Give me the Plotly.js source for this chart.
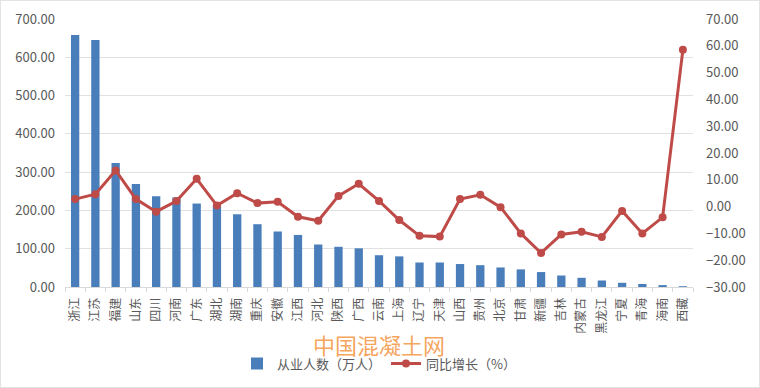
<!DOCTYPE html>
<html>
<head>
<meta charset="utf-8">
<script src="https://cdn.plot.ly/plotly-3.0.1.min.js"></script>
<style>
html,body{margin:0;padding:0;background:#fff;}
#wrap{width:760px;height:388px;box-sizing:border-box;border:1px solid #e3e3e3;position:relative;}
#chart{width:758px;height:386px;position:absolute;left:0;top:0;}
</style>
</head>
<body>
<div id="wrap"><div id="chart"></div></div>
<script>
const provinces = ["浙江","江苏","福建","山东","四川","河南","广东","湖北","湖南","重庆","安徽","江西","河北","陕西","广西","云南","上海","辽宁","天津","山西","贵州","北京","甘肃","新疆","吉林","内蒙古","黑龙江","宁夏","青海","海南","西藏"];
const employees = [658,645,324,269,237,234,218,212,190,164,145,136,111,105,101,83,80,64,64,60,57,51,46,39,30,24,17,11,8,5,2];
const growth = [2.8,4.6,13.5,2.8,-1.9,2.1,10.4,0.4,5.0,1.3,1.8,-3.8,-5.3,4.0,8.5,2.1,-5.0,-10.9,-11.2,2.8,4.4,-0.2,-10.0,-17.3,-10.4,-9.4,-11.3,-1.6,-10.0,-4.0,58.5];
const seriesNames = ["从业人数（万人）","同比增长（%）"];
const watermark = "中国混凝土网";

const fontFam = '"Microsoft YaHei","Noto Sans CJK SC","DejaVu Sans",sans-serif';
const gray = '#595959';

const traces = [
  {
    type:'bar', name:seriesNames[0], x:provinces, y:employees,
    marker:{color:'#4a7ebb'}, yaxis:'y'
  },
  {
    type:'scatter', mode:'lines+markers', name:seriesNames[1], x:provinces, y:growth,
    line:{color:'#be4b48', width:3}, marker:{color:'#be4b48', size:8}, yaxis:'y2'
  }
];

const layout = {
  width:758, height:386,
  margin:{l:64, r:66, t:18, b:100, autoexpand:false},
  paper_bgcolor:'#fff', plot_bgcolor:'#fff',
  font:{family:fontFam, color:gray, size:12},
  bargap:0.59,
  showlegend:true,
  legend:{orientation:'h', x:0.5, xanchor:'center', y:-0.286, yanchor:'middle',
          font:{size:13, color:gray, family:fontFam}, itemwidth:30},
  xaxis:{
    type:'category', range:[-0.5, provinces.length-0.5], tickangle:-90, showgrid:false,
    showline:true, linecolor:'#d9d9d9', linewidth:1,
    ticks:'outside', tickson:'boundaries', ticklen:4, tickcolor:'#d9d9d9',
    ticklabelstandoff:5,
    tickfont:{size:12, color:gray, family:fontFam}, automargin:false
  },
  yaxis:{
    range:[0,700], dtick:100, tickformat:'.2f', showgrid:true, gridcolor:'#e1e1e1', gridwidth:1,
    zeroline:false, showline:false, ticks:'', ticklabelstandoff:9,
    tickfont:{size:13, color:gray}, automargin:false
  },
  yaxis2:{
    range:[-30,70], dtick:10, tickformat:'.2f', overlaying:'y', side:'right', showgrid:false,
    zeroline:false, showline:false, ticks:'', ticklabelstandoff:12,
    tickfont:{size:13, color:gray}, automargin:false
  },
  annotations:[
    {text:watermark, xref:'paper', yref:'paper', x:0.5, y:-0.212, xanchor:'center', yanchor:'middle',
     showarrow:false, font:{size:22, color:'rgba(243,140,50,0.8)', family:fontFam}}
  ]
};

Plotly.newPlot('chart', traces, layout, {displayModeBar:false, staticPlot:true});
</script>
</body>
</html>
